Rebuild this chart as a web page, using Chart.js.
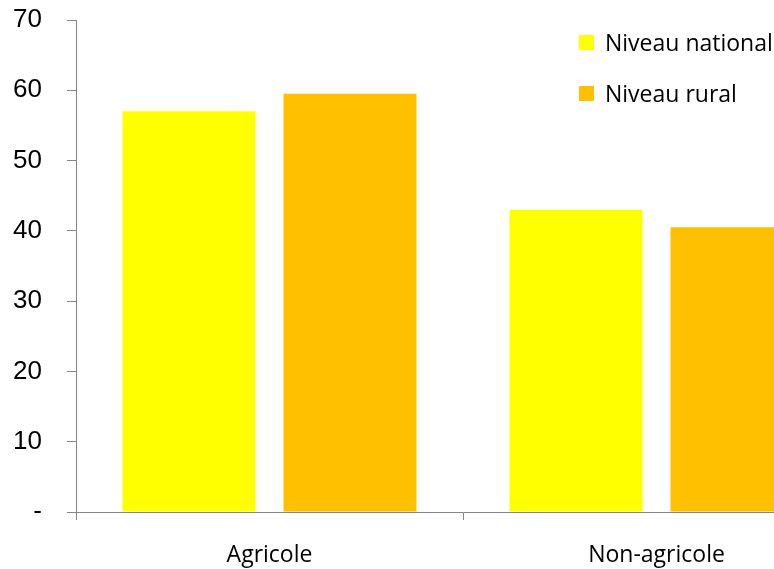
<!DOCTYPE html>
<html lang="fr">
<head>
<meta charset="utf-8">
<title>Niveau national / Niveau rural</title>
<script src="https://cdn.jsdelivr.net/npm/chart.js@4/dist/chart.umd.min.js"></script>
<style>
  html, body { margin: 0; padding: 0; background: #fff; overflow: hidden; }
  #frame { position: relative; width: 774px; height: 569px; overflow: hidden; }
  #plot { position: absolute; left: 0; top: 0; }
  #legend { position: absolute; left: 579px; top: 28px; font-family: "Open Sans", sans-serif; font-size: 23px; color: #000; }
  #legend .item { display: flex; align-items: center; height: 28px; margin-bottom: 23px; white-space: nowrap; }
  #legend .sw { width: 15px; height: 15px; margin-right: 11px; flex: none; }
</style>
</head>
<body>
<div id="frame">
  <canvas id="plot" width="860" height="569"></canvas>
  <div id="legend"></div>
</div>
<script>
// Categories and series
const categories = ["Agricole", "Non-agricole"];
const seriesNames = ["Niveau national", "Niveau rural"];
const nationalValues = [57, 43];
const ruralValues = [59.5, 40.5];
const yTicks = [0, 10, 20, 30, 40, 50, 60, 70];

const seriesColors = ["#FFFF00", "#FFC000"];
const axisGray = "#868686";

const chart = new Chart(document.getElementById("plot"), {
  type: "bar",
  data: {
    labels: categories,
    datasets: [
      { label: seriesNames[0], data: nationalValues, backgroundColor: seriesColors[0],
        categoryPercentage: 0.832, barPercentage: 0.826 },
      { label: seriesNames[1], data: ruralValues, backgroundColor: seriesColors[1],
        categoryPercentage: 0.832, barPercentage: 0.826 }
    ]
  },
  options: {
    responsive: false,
    animation: false,
    layout: { padding: { left: 0, right: 10, top: 20, bottom: 0 } },
    plugins: { legend: { display: false }, tooltip: { enabled: false } },
    scales: {
      x: {
        grid: { drawOnChartArea: false, drawTicks: true, tickLength: 8, color: axisGray, offset: true },
        border: { color: axisGray, width: 1 },
        ticks: { color: "#000", padding: 22, font: { family: "'Open Sans', sans-serif", size: 23 } },
        afterFit: s => { s.height = 57; }
      },
      y: {
        min: yTicks[0],
        max: yTicks[yTicks.length - 1],
        afterBuildTicks: s => { s.ticks = yTicks.map(v => ({ value: v })); },
        grid: { drawOnChartArea: false, drawTicks: true, tickLength: 9, color: axisGray },
        border: { color: axisGray, width: 1 },
        ticks: {
          color: "#000",
          padding: 25,
          font: { family: "'Liberation Sans', Arial, sans-serif", size: 26 },
          callback: v => (v === 0 ? "-" : String(v))
        },
        // fixed axis width; the top of the plot is set by the layout padding
        afterFit: s => { s.width = 76; s.paddingTop = 0; s.paddingBottom = 0; }
      }
    }
  }
});

// Legend built from the chart's datasets
const legend = document.getElementById("legend");
chart.data.datasets.forEach(ds => {
  const item = document.createElement("div");
  item.className = "item";
  const sw = document.createElement("span");
  sw.className = "sw";
  sw.style.background = ds.backgroundColor;
  const txt = document.createElement("span");
  txt.textContent = ds.label;
  item.appendChild(sw);
  item.appendChild(txt);
  legend.appendChild(item);
});
</script>
</body>
</html>
